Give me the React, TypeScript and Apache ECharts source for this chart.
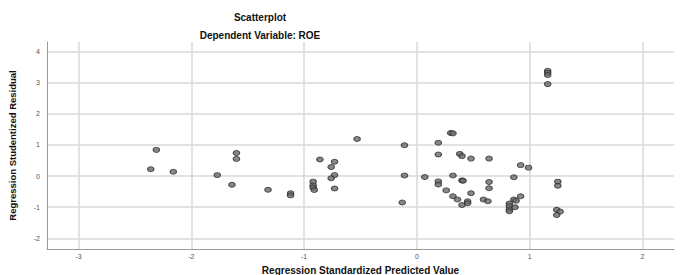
import React, { useEffect, useRef } from "react";
import * as echarts from "echarts";

const predicted: number[] = [
  -2.36, -2.31, -2.16, -1.77, -1.64, -1.6, -1.6, -1.32, -1.12, -1.12,
  -0.92, -0.92, -0.92, -0.91, -0.86, -0.76, -0.73, -0.73, -0.76, -0.73,
  -0.53, -0.11, -0.11, -0.13, 0.07, 0.19, 0.19, 0.19, 0.19, 0.26,
  0.3, 0.32, 0.32, 0.32, 0.36, 0.38, 0.4, 0.4, 0.41, 0.4,
  0.45, 0.45, 0.48, 0.48, 0.59, 0.63, 0.64, 0.64, 0.64, 0.82,
  0.82, 0.82, 0.82, 0.86, 0.86, 0.88, 0.87, 0.92, 0.92, 0.99,
  1.16, 1.16, 1.16, 1.16, 1.25, 1.25, 1.24, 1.27, 1.24,
];
const residual: number[] = [
  0.22, 0.84, 0.14, 0.03, -0.28, 0.74, 0.55, -0.44, -0.55, -0.62,
  -0.18, -0.3, -0.37, -0.45, 0.53, 0.29, 0.46, 0.03, -0.07, -0.4,
  1.19, 0.99, 0.02, -0.85, -0.03, 1.07, 0.69, -0.17, -0.27, -0.46,
  1.38, 1.37, 0.02, -0.65, -0.75, 0.71, 0.64, -0.14, -0.15, -0.93,
  -0.81, -0.87, -0.55, 0.56, -0.75, -0.81, 0.56, -0.19, -0.39, -0.88,
  -0.96, -1.07, -1.13, -0.04, -0.75, -0.79, -1.0, -0.65, 0.35, 0.27,
  3.38, 3.31, 3.24, 2.95, -0.18, -0.31, -1.08, -1.14, -1.25,
];

const titleText = "Scatterplot";
const subtitleText = "Dependent Variable: ROE";
const xName = "Regression Standardized Predicted Value";
const yName = "Regression Studentized Residual";

export default function App() {
  const ref = useRef<HTMLDivElement>(null);
  useEffect(() => {
    if (!ref.current) return;
    const chart = echarts.init(ref.current, undefined, { renderer: "svg" });
    const data = predicted.map((x, i) => [x, residual[i]]);
    const font = "Liberation Sans, Arial, sans-serif";
    chart.setOption({
      animation: false,
      backgroundColor: "#ffffff",
      graphic: [
        {
          type: "text",
          x: 260,
          y: 17,
          style: {
            text: titleText,
            font: `bold 10px ${font}`,
            fill: "#111",
            align: "center",
            verticalAlign: "middle",
          },
        },
        {
          type: "text",
          x: 260,
          y: 35,
          style: {
            text: subtitleText,
            font: `bold 10px ${font}`,
            fill: "#111",
            align: "center",
            verticalAlign: "middle",
          },
        },
      ],
      grid: {
        left: 47,
        right: 6,
        top: 42,
        bottom: 26,
        containLabel: false,
        outerBoundsMode: "none",
      },
      xAxis: {
        type: "value",
        min: -3.28,
        max: 2.28,
        minInterval: 1,
        maxInterval: 1,
        name: xName,
        nameLocation: "middle",
        nameGap: 12,
        nameTextStyle: {
          fontFamily: font,
          fontWeight: "bold",
          fontSize: 10,
          lineHeight: 11,
          color: "#111",
        },
        axisLine: { show: true, onZero: false, lineStyle: { color: "#9a9a9a", width: 1 } },
        axisTick: { show: false },
        axisLabel: {
          showMinLabel: false,
          showMaxLabel: false,
          fontSize: 7,
          color: "#555",
          fontFamily: font,
          margin: 4,
        },
        splitLine: {
          show: true,
          showMinLine: false,
          showMaxLine: false,
          lineStyle: { color: "#d8d8d8", width: 1.5 },
        },
      },
      yAxis: {
        type: "value",
        min: -2.34,
        max: 4.3,
        minInterval: 1,
        maxInterval: 1,
        name: yName,
        nameLocation: "middle",
        nameGap: 30,
        nameTextStyle: { fontFamily: font, fontWeight: "bold", fontSize: 9.5, color: "#111" },
        axisLine: { show: true, onZero: false, lineStyle: { color: "#9a9a9a", width: 1 } },
        axisTick: { show: false },
        axisLabel: {
          showMinLabel: false,
          showMaxLabel: false,
          fontSize: 7,
          color: "#555",
          fontFamily: font,
          margin: 7,
        },
        splitLine: {
          show: true,
          showMinLine: false,
          showMaxLine: false,
          lineStyle: { color: "#d8d8d8", width: 1.5 },
        },
      },
      series: [
        {
          type: "scatter",
          data,
          symbol: "circle",
          symbolSize: [6.5, 5],
          itemStyle: { color: "#6a6a6a", borderColor: "#2a2a2a", borderWidth: 1 },
        },
      ],
    });
    return () => chart.dispose();
  }, []);
  return (
    <div
      ref={ref}
      style={{ position: "fixed", left: 0, top: 0, width: 680, height: 275 }}
    />
  );
}
